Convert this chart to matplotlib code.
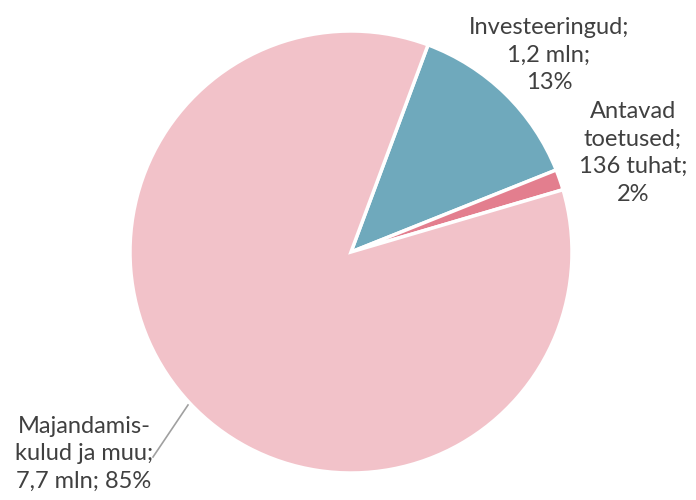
import matplotlib.pyplot as plt

# andmed (mln eurot)
nimed = ['Investeeringud', 'Antavad toetused', 'Majandamiskulud ja muu']
vaartused = [1.2, 0.136, 7.7]
sildid = ['Investeeringud;\n1,2 mln;\n13%',
          'Antavad\ntoetused;\n136 tuhat;\n2%',
          'Majandamis-\nkulud ja muu;\n7,7 mln; 85%']
varvid = ['#6FA9BC', '#E37E8E', '#F2C2C9']

plt.rcParams['font.family'] = ['Lato', 'DejaVu Sans']

fig = plt.figure(figsize=(6.96, 5), dpi=100)
ax = fig.add_axes([0, 0, 1, 1])

ax.pie(vaartused, colors=varvid, startangle=69.6, counterclock=False,
       center=(351, 248), radius=221,
       wedgeprops=dict(edgecolor='white', linewidth=2.5))
ax.set_xlim(0, 696)
ax.set_ylim(0, 500)
ax.set_aspect('equal')
ax.axis('off')

tekst = dict(ha='center', va='center', fontsize=17, color='#404040', linespacing=1.38)
ax.text(549, 500 - 55, sildid[0], **tekst)
ax.text(633, 500 - 153, sildid[1], **tekst)
ax.text(84, 500 - 454, sildid[2], **tekst)
ax.plot([188, 153], [500 - 405, 500 - 457], color='#A0A0A0', linewidth=1.2)

fig.savefig('out.png', dpi=100)
